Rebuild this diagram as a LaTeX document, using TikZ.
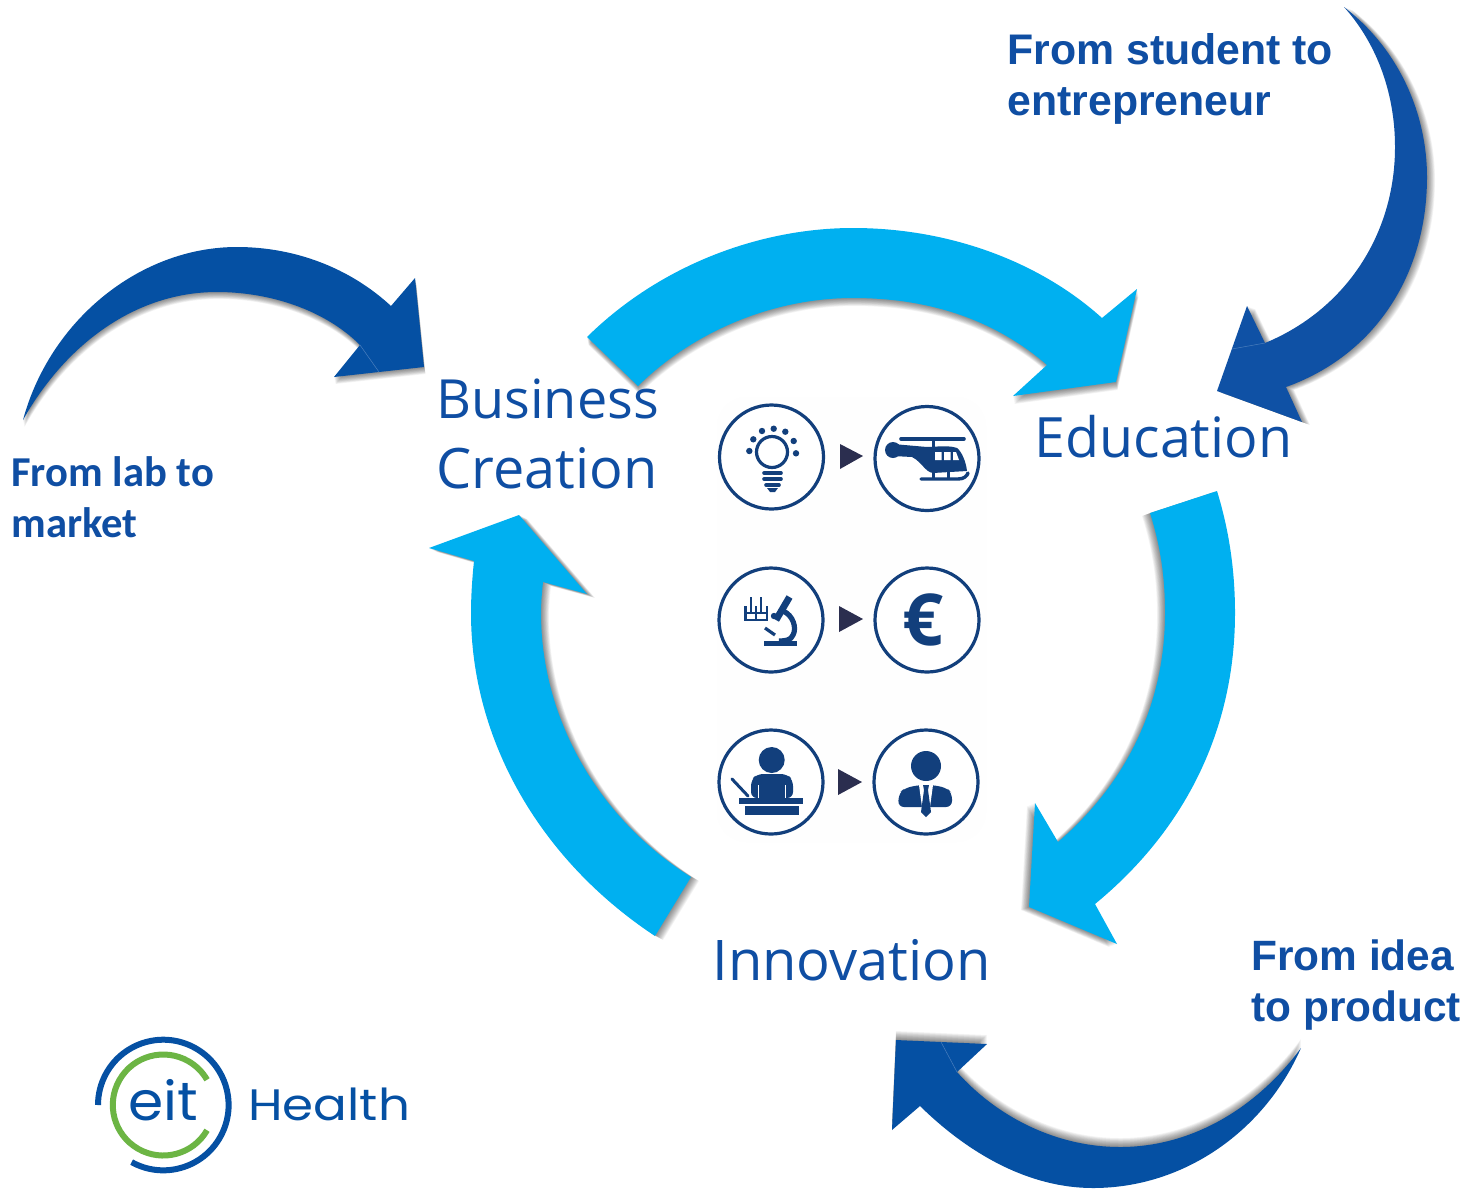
\documentclass[tikz,border=0pt]{standalone}
\usepackage{fontspec}
\setmainfont{Open Sans}
\newfontfamily\arialbold{Liberation Sans}
\newfontfamily\logofont{Poppins}
\newfontfamily\calibrifont{Carlito}
\usetikzlibrary{calc}
\definecolor{cyanarrow}{HTML}{00B0F0}
\definecolor{darkarrow}{HTML}{0550A3}
\definecolor{studentarrow}{HTML}{0F51A5}
\definecolor{seamcolor}{HTML}{4B7FBD}
\definecolor{textblue}{HTML}{0F4EA3}
\definecolor{iconblue}{HTML}{123F7C}
\definecolor{tricolor}{HTML}{2B2E4F}
\definecolor{logogreen}{HTML}{6CB544}
\tikzset{
  bigtext/.style={font=\fontsize{27}{35}\selectfont,text=textblue,align=left,anchor=west,inner sep=0pt},
  sidetext/.style={font=\arialbold\bfseries\fontsize{21.2}{25.5}\selectfont,text=textblue,align=left,anchor=west,inner sep=0pt},
  labtext/.style={font=\calibrifont\bfseries\fontsize{21.3}{25.5}\selectfont,text=textblue,align=left,anchor=west,inner sep=0pt},
  ring/.style={draw=iconblue,line width=1.6pt,fill=white,circle,minimum size=52pt,inner sep=0pt},
  tri/.style={fill=tricolor,draw=none},
  shadelayer/.style={fill=black,opacity=0.045,draw=none},
  seam/.style={draw=seamcolor,line width=0.25pt},
}
% #1 fill colour, #2 shadow dx, #3 shadow dy, #4 path
\newcommand{\shadowed}[4]{%
  \foreach \k in {1,...,12}{\fill[shadelayer,shift={(\k*#2/12,\k*#3/12)}] #4;}
  \fill[#1] #4;}
\begin{document}
\begin{tikzpicture}[x=0.5pt,y=-0.5pt]
\useasboundingbox (0,0) rectangle (1466,1190);
\fill[white] (0,0) rectangle (1466,1190);
% panel
\fill[fill=black!0.4,rounded corners=15pt] (717,397) rectangle (986,842);
% big arrows
\shadowed{cyanarrow}{1.5}{8}{(587,337) .. controls (660,265) and (760,228) .. (853,228) .. controls (950,228) and (1040,262) .. (1102,318) -- (1137,289) -- (1116,382) -- (1013,396) -- (1047,365) .. controls (995,320) and (930,298) .. (853,298) .. controls (775,298) and (695,330) .. (638,386) -- cycle}
\shadowed{cyanarrow}{-8}{3}{(1150,513) -- (1217,491) .. controls (1229,530) and (1235,570) .. (1235,613) .. controls (1235,730) and (1185,830) .. (1095,904) -- (1117,944) -- (1029,907) -- (1035,803) -- (1058,842) .. controls (1130,780) and (1165,700) .. (1165,613) .. controls (1165,575) and (1160,545) .. (1150,513) -- cycle}
\shadowed{cyanarrow}{8}{4}{(691,877) -- (655,936) .. controls (540,860) and (471,740) .. (471,613) .. controls (471,598) and (472,580) .. (474,561) -- (429,548) -- (519,515) -- (587,594) -- (543,582) .. controls (542,592) and (541,602) .. (541,613) .. controls (541,720) and (600,820) .. (691,877) -- cycle}
% dark arrows
\shadowed{darkarrow}{1.5}{7}{(23,420) .. controls (50,320) and (140,247) .. (237,247) .. controls (295,247) and (350,268) .. (391,306) -- (415,278) -- (424,367) -- (334,377) -- (360,345) .. controls (325,310) and (270,292) .. (217,292) .. controls (135,292) and (65,345) .. (23,420) -- cycle}
\shadowed{studentarrow}{8}{3}{(1344,7) .. controls (1400,50) and (1427,115) .. (1427,177) .. controls (1427,275) and (1375,355) .. (1286,387) -- (1302,422) -- (1217,391) -- (1247,306) -- (1265,343) .. controls (1345,310) and (1395,235) .. (1395,147) .. controls (1395,95) and (1378,45) .. (1344,7) -- cycle}
\shadowed{darkarrow}{0}{-9}{(1301,1048) .. controls (1265,1130) and (1185,1188) .. (1093,1188) .. controls (1030,1188) and (970,1155) .. (920,1106) -- (892,1130) -- (896,1040) -- (987,1044) -- (957,1072) .. controls (1000,1120) and (1060,1147) .. (1120,1147) .. controls (1190,1147) and (1255,1110) .. (1301,1048) -- cycle}
\draw[seam] (360,345) -- (379,372);
\draw[seam] (1232,349) -- (1265,343);
\draw[seam] (941,1042) -- (957,1072);
% labels
\node[bigtext] (bc) at (436,434) {Business\\{\fontsize{27.9}{35}\selectfont Creation}};
\node[bigtext,font=\fontsize{27.8}{35}\selectfont] (edu) at (1034,437) {Education};
\node[bigtext,font=\fontsize{28}{35}\selectfont] (inn) at (712,960) {Innovation};
\node[sidetext,font=\arialbold\bfseries\fontsize{21.4}{25.5}\selectfont] (stu) at (1007,79) {From student to\\entrepreneur};
\node[labtext] (lab) at (11,497) {From lab to\\market};
\node[sidetext] (idea) at (1251,985) {From idea\\to product};
% icon rings
\node[ring] (c1) at (771.5,457) {};
\node[ring] (c2) at (927,458.5) {};
\node[ring] (c3) at (771,620) {};
\node[ring] (c4) at (927,620) {};
\node[ring] (c5) at (771,782) {};
\node[ring] (c6) at (926,782) {};
% triangles
\fill[tri] (840,444) -- (863,456) -- (840,469) -- cycle;
\fill[tri] (839,606) -- (863,619) -- (839,632) -- cycle;
\fill[tri] (838,769) -- (862,782) -- (838,795) -- cycle;
% bulb
\draw[iconblue,line width=1.6pt] (772,452) circle[radius=15.5];
\foreach \p in {(749.3,451),(753.3,439.3),(762,431),(773.7,428.7),(785.3,431.7),(793.7,441),(796,453.3)}{\fill[iconblue] \p circle[radius=3.2];}
\draw[iconblue,line width=1.8pt,line cap=round] (764,473) -- (781,473) (764,479) -- (781,479) (766,485) -- (779,485);
\fill[iconblue] (767,488) -- (778,488) -- (775,492) -- (770,492) -- cycle;
% helicopter
\draw[iconblue,line width=1.8pt,line cap=round] (901,438.7) -- (964,438.7);
\draw[iconblue,line width=1.5pt] (933,438.7) -- (933,448);
\fill[iconblue] (893,450) circle[radius=8];
\fill[iconblue] (893,444) -- (927,447) .. controls (945,446) and (952,446) .. (957,448) .. controls (962,452) and (966,462) .. (967,471) -- (933,473) .. controls (925,472) and (922,462) .. (912,457) -- (893,456) -- cycle;
\fill[white] (935,452) rectangle (941.5,460) (944,452) rectangle (950.5,460);
\fill[white] (953,452) -- (956,452) -- (959,460) -- (953,460) -- cycle;
\draw[iconblue,line width=1.5pt] (933,471) -- (933,479) (948,471) -- (948,479);
\draw[iconblue,line width=1.7pt,line cap=round] (921,479) -- (958,479) .. controls (964,479) and (967,476) .. (968,473);
% rack and microscope
\draw[iconblue,line width=1.4pt] (745.5,606) -- (745.5,620) -- (767,620) -- (767,606) (745.5,613) -- (767,613);
\draw[iconblue,line width=1.4pt] (751,597) -- (751,613) (761,597) -- (761,613) (756,606) -- (756,620);
\draw[iconblue,line width=3.4pt] (789.5,597) -- (776,620);
\draw[iconblue,line width=2.6pt] (783,611) .. controls (793,615) and (797,628) .. (793,635) .. controls (791,640) and (786,641) .. (779,641);
\draw[iconblue,line width=1.6pt] (765,628) -- (775,635);
\fill[iconblue] (774,616) circle[radius=3.2];
\fill[iconblue] (764,641) rectangle (797,646);
% euro
\node[font=\bfseries\fontsize{36}{36}\selectfont,text=iconblue,inner sep=0pt] (eur) at (923,620) {€};
% presenter
\fill[iconblue] (771.7,760) circle[radius=13];
\fill[iconblue,rounded corners=3pt] (751,798) -- (751,780) -- (757,774) -- (787,774) -- (793,780) -- (793,798) -- cycle;
\draw[white,line width=0.5pt] (758,785) -- (758,798) (785,785) -- (785,798);
\fill[iconblue] (739,798) rectangle (803,804);
\fill[iconblue] (745,806) rectangle (799,815);
\draw[iconblue,line width=1.5pt,line cap=round] (732,779) -- (748,796);
% businessman
\fill[iconblue] (926,766) circle[radius=15];
\fill[iconblue,rounded corners=3pt] (898,807) -- (899,793) -- (905,788) -- (919,785) -- (933,785) -- (947,788) -- (952,793) -- (952,807) -- cycle;
\fill[white] (919,785) -- (922,807) -- (930,807) -- (933,785) -- cycle;
\fill[iconblue] (923,785) -- (929,785) -- (928,790) -- (931,812) -- (926,817) -- (921,812) -- (924,790) -- cycle;
% logo
\draw[darkarrow,line width=3pt] (163.3,1105) ++(119:65.3) arc[start angle=119,end angle=-180,radius=65.3];
\draw[logogreen,line width=3pt] (163.3,1105) ++(30:50.5) arc[start angle=30,end angle=330,radius=50.5];
\node[font=\logofont\fontsize{27}{27}\selectfont,text=darkarrow,inner sep=0pt,anchor=base] (eit) at (163,1120) {\scalebox{1.05}[1]{eit}};
\node[font=\logofont\fontsize{22}{22}\selectfont,text=darkarrow,inner sep=0pt,anchor=base west] (hl) at (248,1120) {\scalebox{1.135}[1]{Health}};
\end{tikzpicture}
\end{document}
